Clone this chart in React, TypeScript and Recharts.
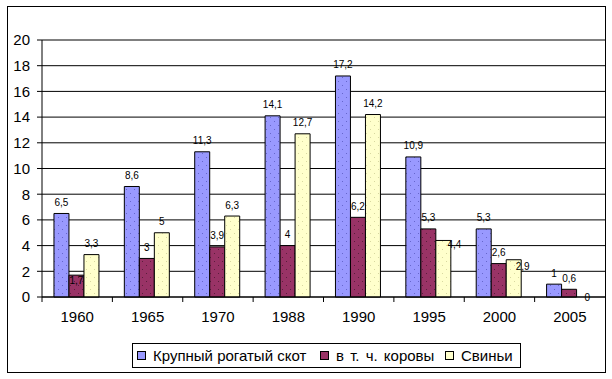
import React from 'react';
import { BarChart, Bar, Line, XAxis, YAxis, CartesianGrid, LabelList, ComposedChart } from 'recharts';

const years = ['1960', '1965', '1970', '1988', '1990', '1995', '2000', '2005'];
const cattle = [6.5, 8.6, 11.3, 14.1, 17.2, 10.9, 5.3, 1];
const cows = [1.7, 3, 3.9, 4, 6.2, 5.3, 2.6, 0.6];
const pigs = [3.3, 5, 6.3, 12.7, 14.2, 4.4, 2.9, 0];
const yTicks = [0, 2, 4, 6, 8, 10, 12, 14, 16, 18, 20];

const seriesNames = ['Крупный рогатый скот', 'в т. ч. коровы', 'Свиньи'];
const seriesColors = ['#9999FF', '#993366', '#FFFFCC'];
const dotColors = ['#6666CC', '#5A1E3C', '#D8D8A0'];

const data = years.map((y, i) => ({ year: y, cattle: cattle[i], cows: cows[i], pigs: pigs[i] }));

const W = 612;
const H = 379;
const M = { top: 40, right: 7, left: 0, bottom: 52 };
const Y_W = 42;
const X_H = 30;
const PLOT_W = W - M.left - M.right - Y_W;
const BAND = PLOT_W / years.length;
const GAP_RATIO = 0.17;
const BAR_W = (BAND * (1 - 2 * GAP_RATIO)) / 3;
const FONT = '"Liberation Sans", Arial, sans-serif';

// manual label nudges (as in the original chart)
const labelShift: Record<string, [number, number]> = {
  'cows-0': [0, 16],
  'pigs-5': [11, 15.5],
  'pigs-6': [9, 18],
  'pigs-7': [2, 11],
};

const fmt = (v: number) => String(v).replace('.', ',');

const labelText = (cx: number, top: number, key: string, index: number, value: number) => {
  const s = labelShift[`${key}-${index}`] || [0, 0];
  return (
    <text
      x={cx + s[0]}
      y={top - 11 + s[1]}
      dy="0.35em"
      textAnchor="middle"
      fontSize={10}
      fontFamily={FONT}
      fill="#000"
    >
      {fmt(value)}
    </text>
  );
};

const makeLabel = (key: string) => (props: any) => {
  const { x, y, width, value, index } = props;
  if (Number(value) === 0) return null;
  return labelText(Number(x) + Number(width) / 2, Number(y), key, index, Number(value));
};

// zero-height bars are not drawn, so their labels are placed from a hidden line of the same values
const makeZeroLabel = (key: string, slot: number) => (props: any) => {
  const { x, y, value, index } = props;
  if (Number(value) !== 0) return null;
  return labelText(Number(x) + (slot - 1) * BAR_W, Number(y), key, index, 0);
};

const XTick = (props: any) => {
  const { x, y, payload } = props;
  return (
    <g>
      <line x1={x - BAND / 2} x2={x - BAND / 2} y1={y} y2={y + 5} stroke="#000" strokeWidth={1} />
      <text x={x} y={y + 14} dy="0.71em" textAnchor="middle" fontSize={15} fontFamily={FONT} fill="#000">
        {payload.value}
      </text>
    </g>
  );
};

const keys = ['cattle', 'cows', 'pigs'];

export default function App() {
  return (
    <div style={{ position: 'absolute', left: 0, top: 0, width: W, height: H, background: '#fff' }}>
      <div
        style={{
          position: 'absolute',
          left: 7,
          top: 6,
          width: 597,
          height: 365,
          border: '1px solid #000',
          boxSizing: 'content-box',
        }}
      />
      <div style={{ position: 'absolute', left: 0, top: 0 }}>
        <ComposedChart
          width={W}
          height={H}
          data={data}
          margin={M}
          barCategoryGap={`${GAP_RATIO * 100}%`}
          barGap={0}
        >
          <defs>
            {keys.map((k, i) => (
              <pattern key={k} id={`pat-${k}`} width={8} height={8} patternUnits="userSpaceOnUse">
                <rect x={0} y={0} width={8} height={8} fill={seriesColors[i]} />
                <rect x={2} y={1} width={1} height={1} fill={dotColors[i]} />
                <rect x={6} y={5} width={1} height={1} fill={dotColors[i]} />
              </pattern>
            ))}
          </defs>
          <CartesianGrid horizontal vertical={false} stroke="#000" strokeWidth={1} />
          <XAxis
            dataKey="year"
            height={X_H}
            axisLine={{ stroke: '#000' }}
            tickLine={false}
            tickSize={0}
            tickMargin={0}
            tick={<XTick />}
            interval={0}
          />
          <YAxis
            width={Y_W}
            domain={[0, 20]}
            ticks={yTicks}
            interval={0}
            axisLine={{ stroke: '#000' }}
            tickLine={{ stroke: '#000' }}
            tickSize={5}
            tickMargin={7}
            tick={{ fontSize: 15, fontFamily: FONT, fill: '#000' }}
          />
          {keys.map((k, i) => (
            <Bar
              key={k}
              dataKey={k}
              name={seriesNames[i]}
              fill={`url(#pat-${k})`}
              stroke="#000"
              strokeWidth={1}
              isAnimationActive={false}
            >
              <LabelList dataKey={k} content={makeLabel(k)} />
            </Bar>
          ))}
          {keys.map((k, i) => (
            <Line
              key={`zero-${k}`}
              dataKey={k}
              stroke="none"
              dot={false}
              activeDot={false}
              legendType="none"
              isAnimationActive={false}
            >
              <LabelList dataKey={k} content={makeZeroLabel(k, i)} />
            </Line>
          ))}
        </ComposedChart>
      </div>
      <div
        style={{
          position: 'absolute',
          left: 132,
          top: 343,
          width: 387,
          height: 23,
          border: '1px solid #000',
          background: '#fff',
          fontFamily: FONT,
          fontSize: 15,
          color: '#000',
        }}
      >
        {seriesNames.map((n, i) => {
          const lefts = [4, 187, 312];
          return (
            <div
              key={n}
              style={{
                position: 'absolute',
                left: lefts[i],
                top: 0,
                height: 23,
                display: 'flex',
                alignItems: 'center',
                whiteSpace: 'nowrap',
              }}
            >
              <span
                style={{
                  display: 'inline-block',
                  width: 7,
                  height: 7,
                  border: '1px solid #000',
                  background: seriesColors[i],
                  marginRight: 7,
                }}
              />
              <span style={{ wordSpacing: i === 1 ? 2 : 0 }}>{n}</span>
            </div>
          );
        })}
      </div>
    </div>
  );
}
